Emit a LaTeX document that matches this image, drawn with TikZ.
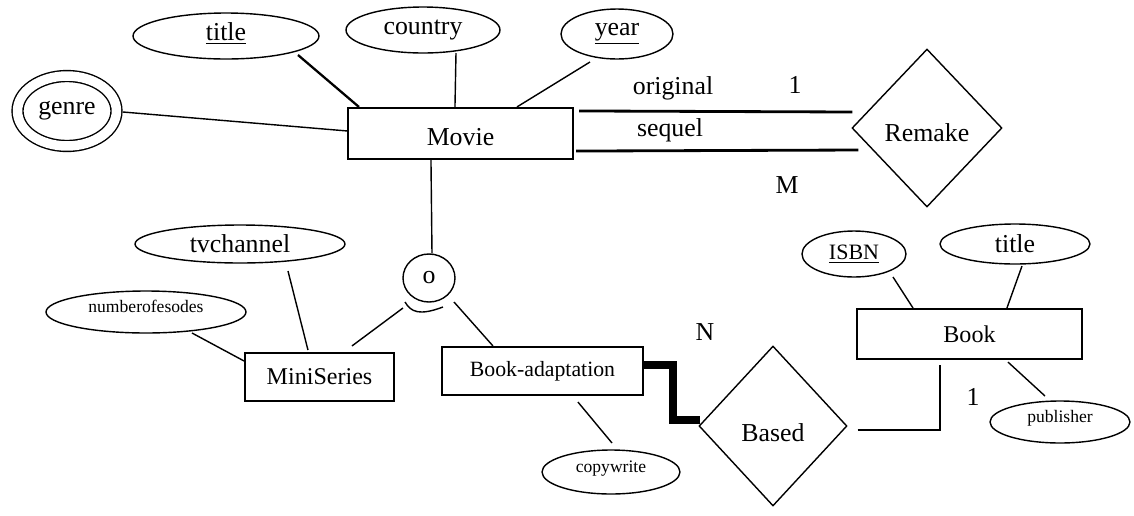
\documentclass[tikz,border=0pt]{standalone}
\usepackage{fontspec}
\setmainfont{Liberation Serif}
\usetikzlibrary{shapes.geometric,calc}
\tikzset{
  big/.style={font=\fontsize{14.7}{16}\selectfont},
  mid/.style={font=\fontsize{13.7}{15}\selectfont},
  smalltxt/.style={font=\fontsize{10}{12}\selectfont},
  attr/.style={ellipse,draw,line width=0.8pt,inner sep=0pt,big},
  entity/.style={rectangle,draw,line width=1.2pt,inner sep=0pt,big},
  rel/.style={diamond,draw,line width=0.8pt,inner sep=0pt,big},
  conn/.style={line width=0.8pt},
  heavy/.style={line width=1.6pt},
  total/.style={line width=5pt,line join=miter,line cap=butt},
}
\begin{document}
\begin{tikzpicture}[x=0.02cm,y=-0.02cm]
\useasboundingbox[fill=white] (0,0) rectangle (1134,515);

% Movie and attributes
\node[entity,minimum width=4.5cm,minimum height=1.02cm] (movie) at (460.5,133.5) {\rule{0pt}{13.5pt}Movie};
\node[attr,minimum width=3.72cm,minimum height=0.92cm] (mtitle) at (226,36) {\rule[-5pt]{0pt}{5pt}\underline{title}\hspace{38pt}};
\node[attr,minimum width=3.08cm,minimum height=0.92cm] (mcountry) at (423,30) {country};
\node[attr,minimum width=2.24cm,minimum height=1.0cm] (myear) at (617,34) {\underline{year}};
\node[attr,double,double distance=5.4pt,minimum width=1.98cm,minimum height=1.4cm] (genre) at (67,111) {genre};

\draw[line width=1.3pt] ($(mtitle.center)+(72,19)$) -- ($(movie.north west)+(12,0)$);
\draw[conn] ($(mcountry.center)+(33,23)$) -- ($(movie.north west)+(108,0)$);
\draw[conn] ($(myear.center)+(-27,28)$) -- ($(movie.north west)+(170,0)$);
\draw[conn] ($(genre.center)+(56,1)$) -- ($(movie.north west)+(0,24)$);

% Remake
\node[rel,minimum width=3cm,minimum height=3.16cm] (remake) at (927,128) {\rule{0pt}{16pt}Remake};
\draw[heavy] ($(movie.north east)+(5,4)$) -- ($(remake.west)+(1,-16)$);
\draw[heavy] ($(movie.south east)+(2,-9)$) -- ($(remake.west)+(7,22)$);
\node[big] (lorig) at (673,88) {original};
\node[big] (lone) at (795,85) {1};
\node[big] (lseq) at (670,130) {sequel};
\node[big] (lm) at (787,185) {M};

% Specialisation circle
\node[ellipse,draw,line width=0.8pt,inner sep=0pt,minimum width=1.04cm,minimum height=0.96cm,big] (circ) at (429,278) {o};
\draw[conn] ($(movie.south west)+(84,0)$) -- ($(circ.north)+(3,0)$);

% MiniSeries
\node[entity,mid,minimum width=2.98cm,minimum height=0.96cm] (mini) at (319.5,377) {MiniSeries\hspace{5pt}};
\node[attr,minimum width=4.2cm,minimum height=0.76cm] (tv) at (240,244) {tvchannel\hspace{13.6pt}};
\node[attr,smalltxt,minimum width=4cm,minimum height=0.84cm] (neps) at (146,312) {\rule[-6pt]{0pt}{6pt}numberofesodes};
\draw[conn] ($(tv.center)+(48,27)$) -- ($(mini.north west)+(64,-2)$);
\draw[conn] ($(neps.center)+(46,21)$) -- ($(mini.north west)+(0,9)$);
\draw[conn] ($(mini.north west)+(108,-6)$) -- ($(circ.center)+(-26,30)$);
\draw[conn] ($(circ.center)+(-24,24)$) .. controls ($(circ.center)+(-18,34)$) and ($(circ.center)+(-10,38)$) .. ($(circ.center)+(14,29)$);

% Book-adaptation
\node[entity,font=\fontsize{12.4}{14}\selectfont,minimum width=4.02cm,minimum height=0.96cm] (ba) at (542.5,371) {Book-adaptation\hspace{12.5pt}};
\draw[conn] ($(circ.center)+(25,24)$) -- ($(ba.north west)+(52,0)$);
\node[attr,smalltxt,minimum width=2.76cm,minimum height=0.88cm] (copy) at (611,472) {\rule[-6pt]{0pt}{6pt}copywrite};
\draw[conn] ($(ba.south west)+(137,6)$) -- ($(copy.center)+(1,-29)$);

% Based
\node[rel,minimum width=2.96cm,minimum height=3.2cm] (based) at (773,426) {\rule{0pt}{18pt}Based};
\draw[total] ($(ba.east)+(0,-6)$) -- ++(29,0) |- ($(based.west)+(2,-6)$);
\node[big] (ln) at (705,332) {N};

% Book
\node[entity,mid,minimum width=4.5cm,minimum height=1.0cm] (book) at (969.5,334) {Book};
\node[attr,font=\fontsize{12.5}{14}\selectfont,minimum width=2.08cm,minimum height=0.92cm] (isbn) at (854,254) {\underline{ISBN}};
\node[attr,minimum width=3cm,minimum height=0.8cm] (btitle) at (1015,244) {title\hspace{22.7pt}};
\node[attr,smalltxt,minimum width=2.8cm,minimum height=0.84cm] (pub) at (1060,422) {\rule[-6pt]{0pt}{6pt}publisher};
\draw[conn] ($(isbn.center)+(39,23)$) -- ($(book.north west)+(57,0)$);
\draw[conn] ($(btitle.center)+(7,22)$) -- ($(book.north west)+(151,0)$);
\draw[conn] ($(book.south west)+(152,2)$) -- ($(pub.center)+(-15,-26)$);
\draw[line width=1pt] ($(based.east)+(10,4)$) -| ($(book.south west)+(84,5)$);
\node[big] (lone2) at (973,397) {1};
\end{tikzpicture}
\end{document}
